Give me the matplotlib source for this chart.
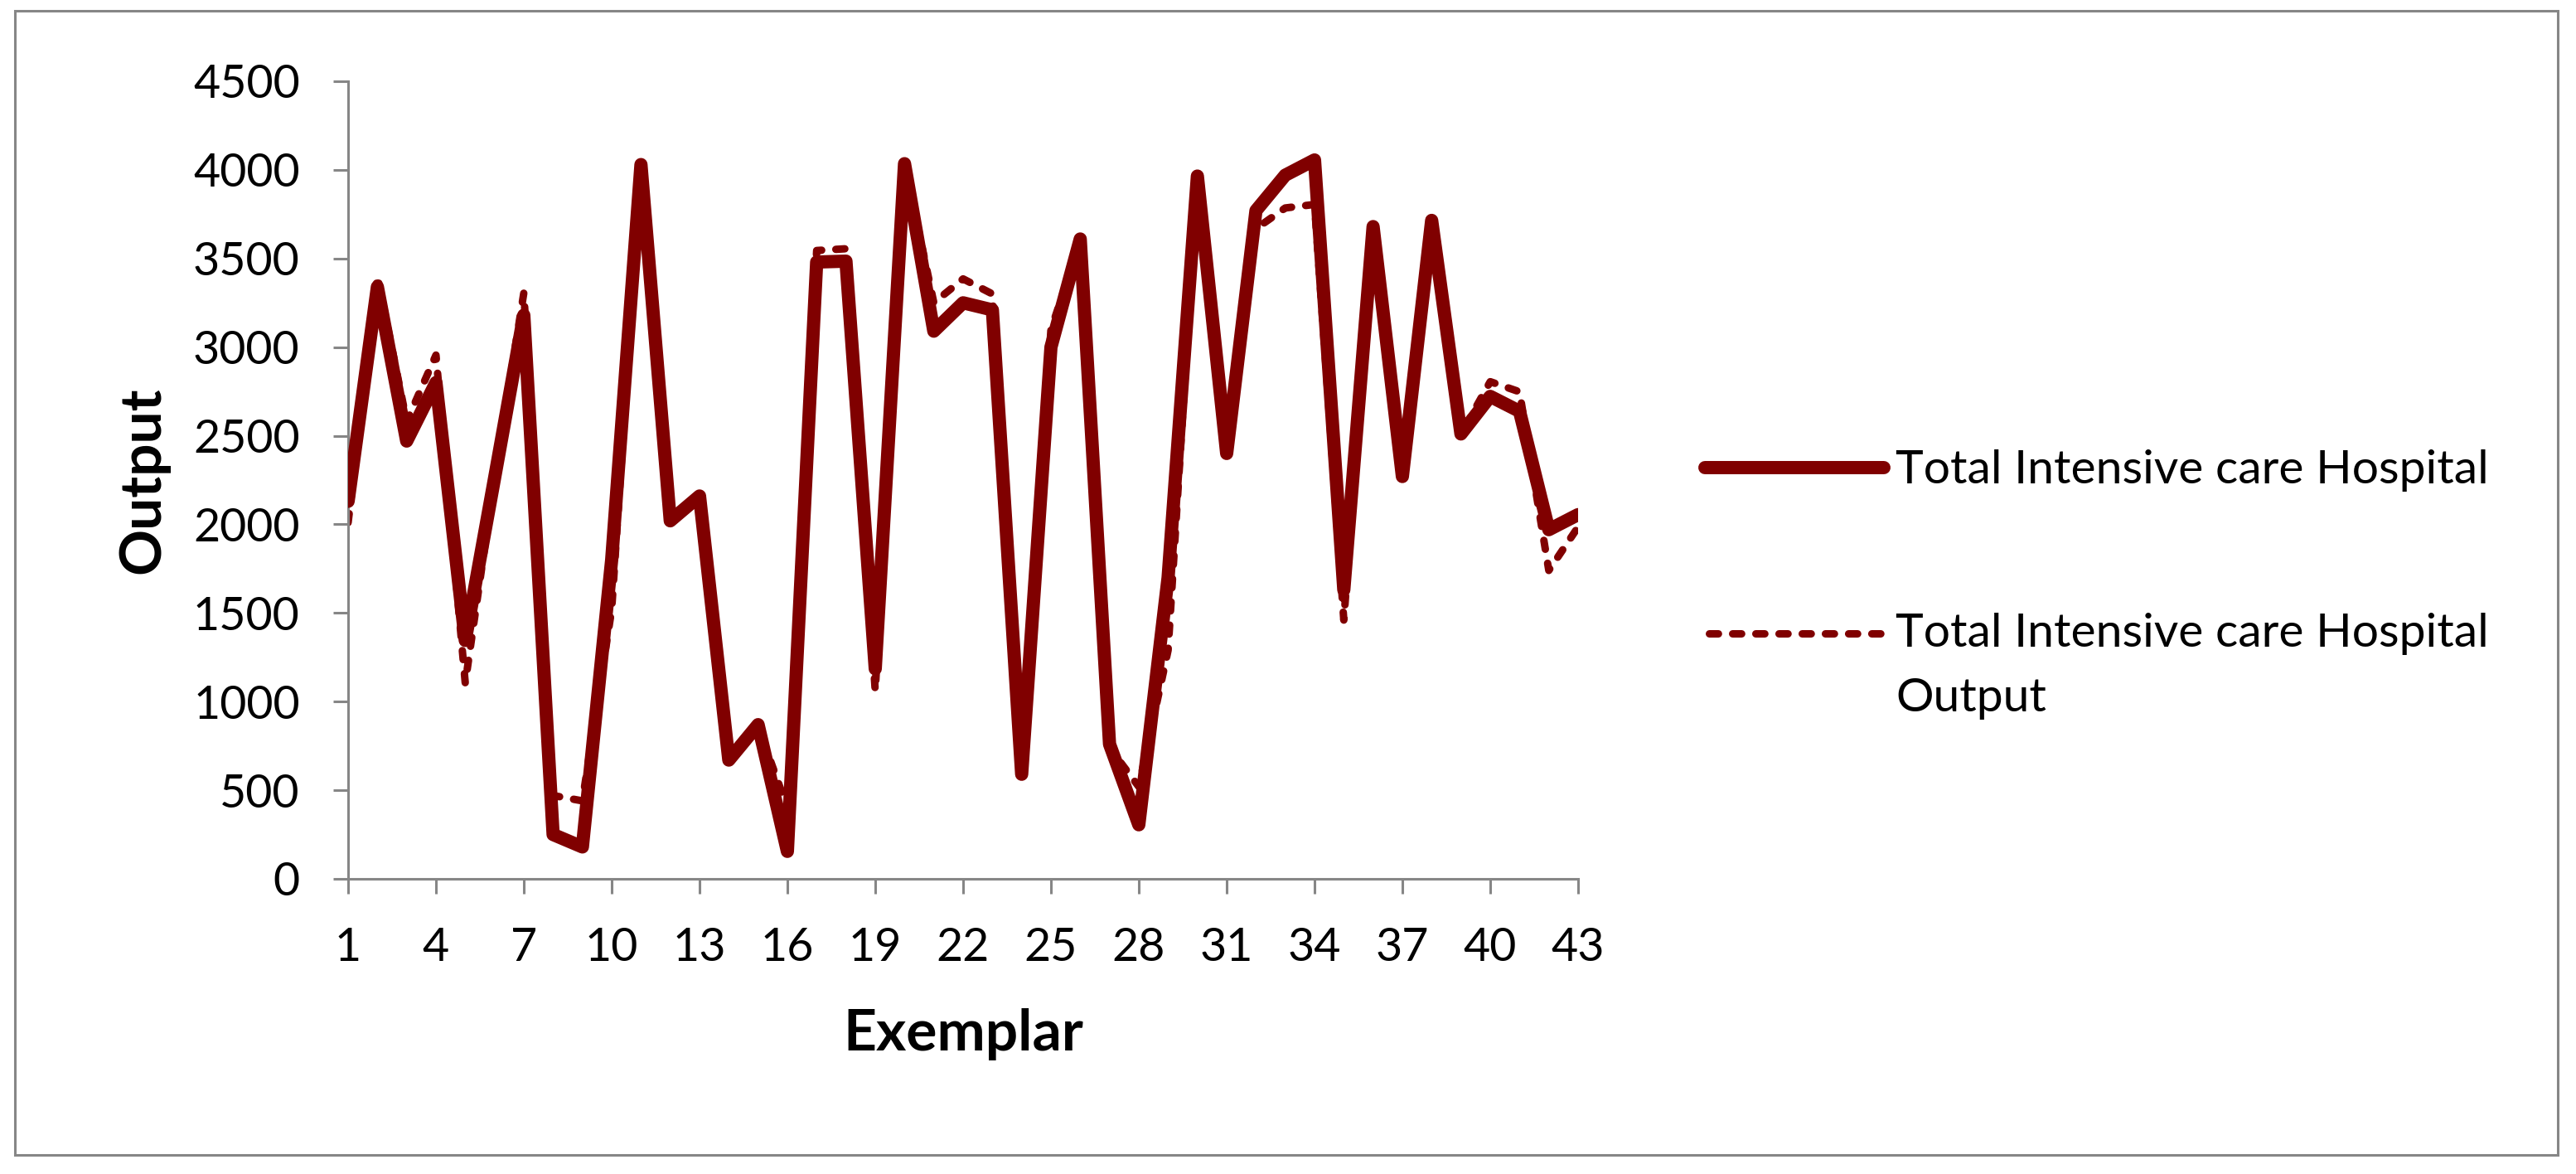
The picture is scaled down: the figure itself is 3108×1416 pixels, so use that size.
import numpy as np
import matplotlib
matplotlib.use('Agg')
import matplotlib.pyplot as plt
from matplotlib.lines import Line2D
from matplotlib.patches import Rectangle

plt.rcParams['font.family'] = ['Lato', 'DejaVu Sans']

# exemplar index
exemplar = np.arange(1, 44)

# solid series: Total Intensive care Hospital
hospital = [2130, 3340, 2470, 2800, 1345, 2260, 3180, 250, 180, 1800,
            4030, 2020, 2160, 670, 870, 155, 3480, 3485, 1185, 4035,
            3090, 3250, 3210, 590, 3000, 3610, 760, 305, 1700, 3965,
            2400, 3770, 3970, 4056, 1630, 3680, 2270, 3715, 2510, 2722,
            2638, 1970, 2055]

# dashed series: Total Intensive care Hospital Output
hospital_out = [2010, 3400, 2580, 2955, 1105, 2260, 3306, 470, 440, 1520,
                4030, 2020, 2160, 670, 860, 400, 3545, 3555, 1060, 4035,
                3250, 3385, 3300, 590, 3100, 3590, 740, 520, 1290, 3965,
                2400, 3668, 3785, 3805, 1460, 3680, 2270, 3715, 2510, 2805,
                2748, 1740, 1985]

y_ticks = np.arange(0, 4501, 500)
x_ticks = np.arange(1, 44, 3)

labels = ['Total Intensive care Hospital', 'Total Intensive care Hospital', 'Output']

red = '#800000'
grey = '#868686'

W, H = 3108, 1416
fig = plt.figure(figsize=(W / 100, H / 100), dpi=100)
ax = fig.add_axes([420 / W, 1 - 1060 / H, 1484 / W, 962 / H])

ax.plot(exemplar, hospital_out, color=red, lw=6.5, dashes=(1.2, 1.9),
        dash_capstyle='round', zorder=2)
ax.plot(exemplar, hospital, color=red, lw=11.5, solid_capstyle='round',
        solid_joinstyle='round', zorder=3)

ax.set_xlim(1, 43)
ax.set_ylim(0, 4500)
ax.set_xticks(x_ticks)
ax.set_yticks(y_ticks)

for s in ['top', 'right']:
    ax.spines[s].set_visible(False)
for s in ['left', 'bottom']:
    ax.spines[s].set_color(grey)
    ax.spines[s].set_linewidth(2.2)

ax.tick_params(axis='both', direction='out', length=13, width=2.2, color=grey,
               labelsize=40, labelcolor='black')
ax.tick_params(axis='y', pad=29)
ax.tick_params(axis='x', pad=29)

ax.set_xlabel('Exemplar', fontsize=50, fontweight='bold')
ax.set_ylabel('Output', fontsize=50, fontweight='bold')
ax.xaxis.set_label_coords(0.5, -0.162)
ax.yaxis.set_label_coords(-0.145, 0.5)

# legend drawn by hand so the dash sits on the first text line
fig.add_artist(Line2D([2057 / W, 2273 / W], [1 - 564 / H] * 2, color=red, lw=11.5,
                      solid_capstyle='round'))
fig.add_artist(Line2D([2062 / W, 2269 / W], [1 - 764 / H] * 2, color=red, lw=6.5,
                      dashes=(1.2, 1.9), dash_capstyle='round'))
fig.text(2287 / W, 1 - 583 / H, labels[0], fontsize=41, va='baseline', ha='left')
fig.text(2287 / W, 1 - 780 / H, labels[1], fontsize=41, va='baseline', ha='left')
fig.text(2287 / W, 1 - 858 / H, labels[2], fontsize=41, va='baseline', ha='left')

# outer chart border
fig.add_artist(Rectangle((18 / W, 1 - 1393 / H), 3068 / W, 1380 / H,
                         transform=fig.transFigure, fill=False, ec=grey, lw=2.2))

fig.savefig('out.png', dpi=100)
